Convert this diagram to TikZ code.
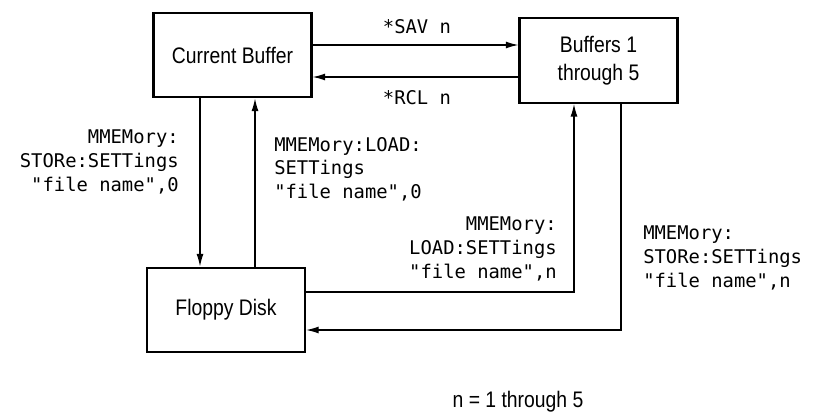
\documentclass[tikz,border=0pt]{standalone}
\usepackage{fontspec}
\setmainfont{Liberation Sans}[FakeStretch=0.86]
\setmonofont{DejaVu Sans Mono}
\usetikzlibrary{arrows.meta}

\tikzset{
    box/.style={draw, line width=1.5pt, minimum width=3.95cm, minimum height=2.12cm, align=center, font=\fontsize{16}{20}\selectfont},
    cmd/.style={inner sep=0pt, font=\ttfamily\fontsize{13.4}{16.8}\selectfont},
    link/.style={line width=0.9pt, -{Latex[length=9pt,width=5pt]}}
}

\begin{document}
\begin{tikzpicture}[x=0.025cm, y=-0.025cm]
    \useasboundingbox (0,0) rectangle (818,414);

    \node[box] (cur) at (232.5,55) {Current Buffer};
    \node[box] (buf) at (598.5,60.5) {Buffers 1\\through 5};
    \node[box] (flop) at (226,310) {Floppy Disk};

    \draw[link] (cur.east |- 0,45) -- (buf.west |- 0,45);
    \draw[link] (buf.west |- 0,77) -- (cur.east |- 0,77);
    \draw[link] (cur.south -| 200,0) -- (flop.north -| 200,0);
    \draw[link] (flop.north -| 255,0) -- (cur.south -| 255,0);
    \draw[link] (flop.east |- 0,292) -| (buf.south -| 574,0);
    \draw[link] (buf.south -| 621,0) |- (flop.east |- 0,330);

    \node[cmd] (sav) at (417,27) {*SAV n};
    \node[cmd] (rcl) at (417,98) {*RCL n};
    \node[cmd, anchor=east, align=right] (storezero) at (179,162) {MMEMory:\\STORe:SETTings\\"file name",0};
    \node[cmd, anchor=west, align=left] (loadzero) at (274,169) {MMEMory:LOAD:\\SETTings\\"file name",0};
    \node[cmd, anchor=east, align=right] (loadn) at (557,249) {MMEMory:\\LOAD:SETTings\\"file name",n};
    \node[cmd, anchor=west, align=left] (storen) at (643,258) {MMEMory:\\STORe:SETTings\\"file name",n};
    \node (range) at (518,402) {\fontsize{16}{20}\selectfont n = 1 through 5};
\end{tikzpicture}
\end{document}
